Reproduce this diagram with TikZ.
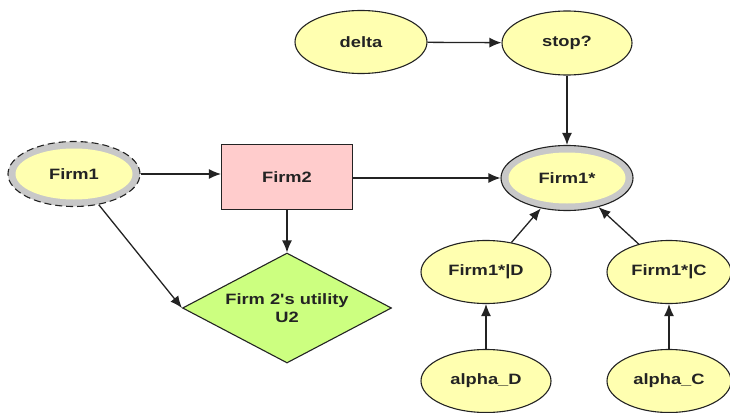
\documentclass[tikz,border=0pt]{standalone}
\usepackage{fontspec}
\newfontfamily\lab[FakeStretch=1.22]{Liberation Sans}
\usetikzlibrary{shapes.geometric,arrows.meta}
\definecolor{ylw}{RGB}{255,255,176}
\definecolor{pinkf}{RGB}{255,204,204}
\definecolor{greenf}{RGB}{204,255,128}
\definecolor{ring}{RGB}{200,200,200}
\definecolor{ink}{RGB}{35,35,35}
\tikzset{
  every node/.style={font=\lab\bfseries\fontsize{15}{17.5}\selectfont, text=ink},
  ell/.style={ellipse, draw=ink, line width=1.1pt, fill=ylw, inner sep=0pt, minimum width=#1, minimum height=63pt},
  ell/.default=130pt,
  ringouter/.style={ellipse, draw=ink, line width=1.1pt, fill=ring, inner sep=0pt, minimum width=132pt, minimum height=65pt},
  ringinner/.style={ellipse, fill=ylw, inner sep=0pt, minimum width=117pt, minimum height=51pt},
  box/.style={rectangle, draw=ink, line width=1.1pt, fill=pinkf, minimum width=131pt, minimum height=65pt},
  util/.style={diamond, aspect=1.9, draw=ink, line width=1.1pt, fill=greenf, inner sep=0pt, minimum width=209pt, minimum height=110pt, align=center},
  conn/.style={draw=ink, line width=1.3pt, -{Latex[length=12pt,width=10pt]}}
}
\begin{document}
\begin{tikzpicture}[x=1pt,y=-1pt]
\useasboundingbox (0,0) rectangle (730,412);
% top
\node[ell=132pt] (delta) at (361,42) {delta};
\node[ell=130pt, minimum height=64pt] (stop) at (567,43) {stop?};
% Firm1 (dashed ring)
\node[ringouter, dashed, dash pattern=on 7pt off 4pt] (firm1) at (74,174) {};
\node[ringinner] (firm1in) at (firm1.center) {Firm1};
% Firm2
\node[box] (firm2) at (287,177) {Firm2};
% Firm1*
\node[ringouter] (firm1s) at (567,178) {};
\node[ringinner] (firm1sin) at (firm1s.center) {Firm1*};
% utility
\node[util] (utility) at (287,308) {Firm 2's utility\\U2};
% bottom right
\node[ell=130pt] (fD) at (486,272) {Firm1*|D};
\node[ell=124pt] (fC) at (669,272) {Firm1*|C};
\node[ell=130pt] (aD) at (486,381) {alpha\_D};
\node[ell=124pt] (aC) at (669,381) {alpha\_C};
% connectors
\draw[conn] (delta) -- (stop);
\draw[conn] (stop) -- (firm1s);
\draw[conn] (firm1.east) -- (firm2.west |- firm1.east);
\draw[conn] (firm2.east |- firm1s) -- (firm1s);
\draw[conn] (firm1) -- (utility.west);
\draw[conn] (firm2) -- (utility.north);
\draw[conn] (fD) -- (firm1s);
\draw[conn] (fC) -- (firm1s);
\draw[conn] (aD) -- (fD);
\draw[conn] (aC) -- (fC);
\end{tikzpicture}
\end{document}
